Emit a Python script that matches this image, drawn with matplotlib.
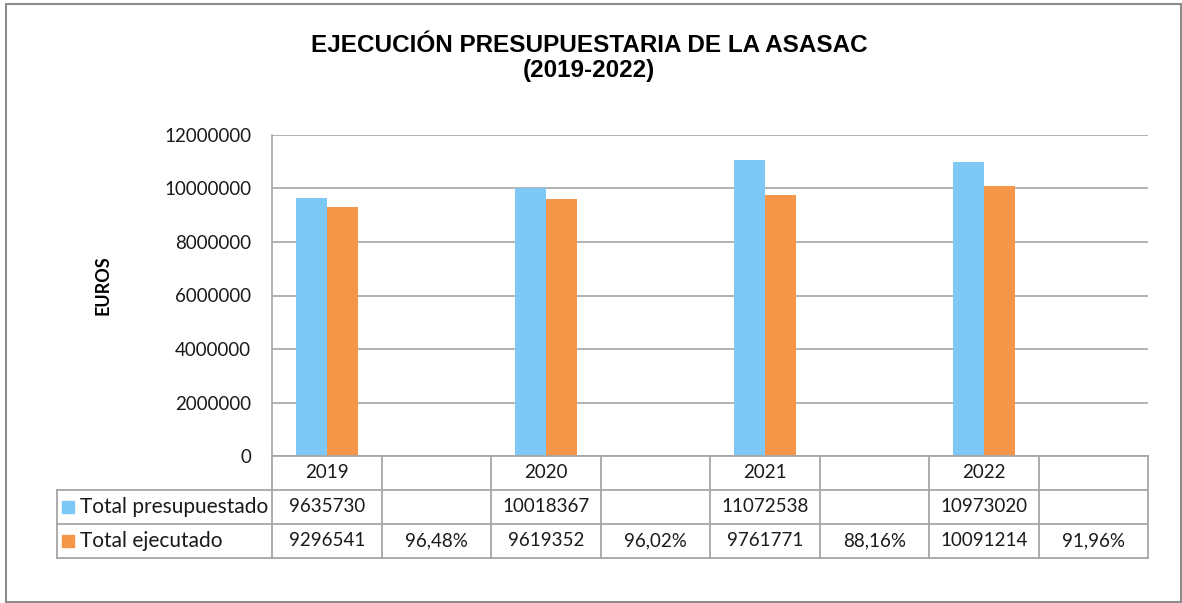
import matplotlib
matplotlib.use('Agg')
import matplotlib.pyplot as plt
from matplotlib.patches import Rectangle
from matplotlib.ticker import MultipleLocator, FuncFormatter

years = ['2019', '2020', '2021', '2022']
presupuestado = [9635730, 10018367, 11072538, 10973020]
ejecutado = [9296541, 9619352, 9761771, 10091214]
pct_ejecucion = ['96,48%', '96,02%', '88,16%', '91,96%']
series_names = ['Total presupuestado', 'Total ejecutado']

BLUE = '#7DC8F5'
ORANGE = '#F59648'
GRID = '#A6A6A6'
W, H = 1182, 603


def fx(px):
    return px / W


def fy(py):
    return 1 - py / H


def main():
    fig = plt.figure(figsize=(W / 100, H / 100), dpi=100)
    fig.patch.set_facecolor('white')

    # outer chart frame
    fig.patches.append(Rectangle((fx(6), fy(602)), fx(1181) - fx(6), fy(4) - fy(602),
                                 transform=fig.transFigure, fill=False,
                                 edgecolor='#8C8C8C', linewidth=1.5))

    fig.text(fx(589), fy(58), 'EJECUCIÓN PRESUPUESTARIA DE LA ASASAC\n(2019-2022)',
             ha='center', va='center', fontsize=17.5, fontweight='bold',
             family='Liberation Sans', linespacing=1.1)

    ax = fig.add_axes([fx(272), fy(456), fx(1148) - fx(272), fy(135) - fy(456)])
    ncols = 2 * len(years)
    centers = [2 * i + 0.5 for i in range(len(years))]
    bw = 0.283
    ax.bar([c - bw / 2 for c in centers], presupuestado, width=bw, color=BLUE, zorder=3)
    ax.bar([c + bw / 2 for c in centers], ejecutado, width=bw, color=ORANGE, zorder=3)
    ax.set_xlim(0, ncols)
    ax.set_ylim(0, 12000000)
    ax.yaxis.set_major_locator(MultipleLocator(2000000))
    ax.yaxis.set_major_formatter(FuncFormatter(lambda v, p: '%d' % v))
    ax.set_xticks([])
    ax.tick_params(axis='y', length=0, pad=15, labelsize=13.5, labelcolor='#1a1a1a')
    for lab in ax.get_yticklabels():
        lab.set_family('Lato')
    ax.grid(axis='y', color=GRID, linewidth=1.2, zorder=0)
    for s in ['top', 'right', 'bottom']:
        ax.spines[s].set_visible(False)
    ax.spines['left'].set_color(GRID)
    ax.spines['left'].set_linewidth(1.2)
    fig.text(fx(103), fy(285), 'EUROS', rotation=90, ha='center', va='center',
             fontsize=13, fontweight='bold', family='Lato')

    # data table under the plot
    tab = fig.add_axes([fx(272), fy(558), fx(1148) - fx(272), fy(456) - fy(558)])
    tab.set_xlim(0, ncols)
    tab.set_ylim(3, 0)
    tab.axis('off')
    left = -(272 - 57) / ((1148 - 272) / ncols)
    kw = dict(color=GRID, linewidth=1.3, clip_on=False)
    tab.plot([0, ncols], [0, 0], **kw)
    for r in (1, 2, 3):
        tab.plot([left, ncols], [r, r], **kw)
    tab.plot([left, left], [1, 3], **kw)
    for c in range(ncols + 1):
        tab.plot([c, c], [0, 3], **kw)

    tkw = dict(ha='center', va='center', fontsize=13.5, family='Lato', color='#1a1a1a')
    for i, yr in enumerate(years):
        tab.text(2 * i + 0.5, 0.5, yr, **tkw)
        tab.text(2 * i + 0.5, 1.5, str(presupuestado[i]), **tkw)
        tab.text(2 * i + 0.5, 2.5, str(ejecutado[i]), **tkw)
        tab.text(2 * i + 1.5, 2.5, pct_ejecucion[i], **tkw)

    for r, (name, col) in enumerate(zip(series_names, [BLUE, ORANGE])):
        tab.scatter([left + 0.1], [r + 1.5], marker='s', s=75, color=col, clip_on=False)
        tab.text(left + 0.21, r + 1.5, name, ha='left', va='center', fontsize=15,
                 family='Lato', color='#1a1a1a')

    fig.savefig('out.png', dpi=100)


if __name__ == '__main__':
    main()
